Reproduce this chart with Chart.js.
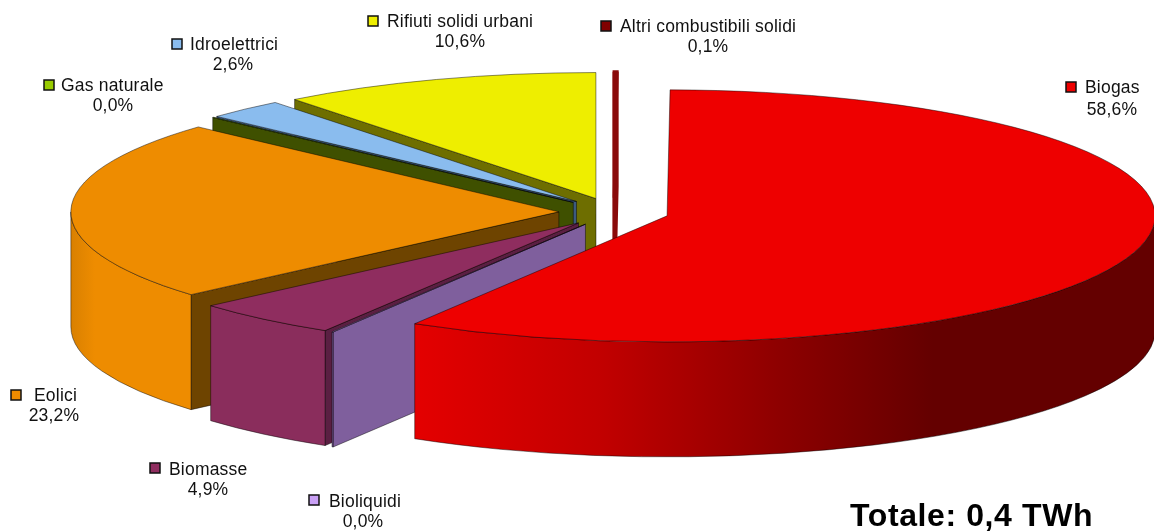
<!DOCTYPE html>
<html>
<head>
<meta charset="utf-8">
<title>Totale: 0,4 TWh</title>
<script src="https://cdn.jsdelivr.net/npm/chart.js@4/dist/chart.umd.min.js"></script>
<style>
    html, body { margin: 0; padding: 0; background: #fff; }
    canvas { display: block; }
</style>
</head>
<body>
<canvas id="myChart" width="1154" height="531"></canvas>
<script>
// data, clockwise from the top of the pie
var categories = ['Biogas', 'Bioliquidi', 'Biomasse', 'Eolici', 'Gas naturale', 'Idroelettrici', 'Rifiuti solidi urbani', 'Altri combustibili solidi'];
var shares = [58.6, 0.04, 4.9, 23.2, 0.04, 2.6, 10.6, 0.1];
var shareLabels = ['58,6%', '0,0%', '4,9%', '23,2%', '0,0%', '2,6%', '10,6%', '0,1%'];
var totalLabel = 'Totale: 0,4 TWh';

// colours
var topColors = ['#ee0000', '#c9a0f5', '#8f2d5f', '#ee8c00', '#99cc00', '#8abcee', '#eeee00', '#800000'];
var cutColors = ['#a00000', '#7f5f9d', '#5a1f42', '#6e4400', '#3f5000', '#3c5a80', '#6e6e00', '#7a0000'];
var rimStops = [
    [[0, '#e40000'], [0.25, '#c20000'], [0.5, '#8c0000'], [0.7, '#640000'], [1, '#640000']],
    [[0, '#7f5f9d'], [1, '#7f5f9d']],
    [[0, '#8a2d5c'], [1, '#8a2d5c']],
    [[0, '#d98000'], [0.2, '#ee8c00'], [1, '#ee8c00']],
    [[0, '#3f5000'], [1, '#3f5000']],
    [[0, '#3c5a80'], [1, '#3c5a80']],
    [[0, '#6e6e00'], [1, '#6e6e00']],
    [[0, '#7a0000'], [1, '#7a0000']]
];
// outline of each slice, the thin last one gets a thick red edge so it stays visible
var edgeColors = ['rgba(0,0,0,0.45)', 'rgba(0,0,0,0.45)', 'rgba(0,0,0,0.45)', 'rgba(0,0,0,0.45)', 'rgba(0,0,0,0.45)', 'rgba(0,0,0,0.45)', 'rgba(0,0,0,0.45)', '#8a0a0a'];
var edgeWidths = [1, 1, 1, 1, 1, 1, 1, 3];

// shape of the tilted pie
var PIE_X = 614, PIE_Y = 212, RX = 488, RY = 126, DEPTH = 115, EXPLODE = 0.113;

// label layout: key centre x, key centre y, text left, text baseline, value centre, value baseline
var labelLayout = [
    [1071, 87, 1085, 93, 1112, 115],
    [314, 500, 329, 507, 363, 527],
    [155, 468, 169, 475, 208, 495],
    [16, 395, 34, 401, 54, 421],
    [49, 85, 61, 91, 113, 111],
    [177, 44, 190, 50, 233, 70],
    [373, 21, 387, 27, 460, 47],
    [606, 26, 620, 32, 708, 52]
];

function slicePoint(arc) {
    var mid = (arc.startAngle + arc.endAngle) / 2;
    return {
        x: PIE_X + Math.cos(mid) * EXPLODE * RX,
        y: PIE_Y + Math.sin(mid) * EXPLODE * RY
    };
}

function drawCut(ctx, p, angle, color) {
    var rimX = p.x + Math.cos(angle) * RX;
    var rimY = p.y + Math.sin(angle) * RY;
    ctx.beginPath();
    ctx.moveTo(p.x, p.y);
    ctx.lineTo(rimX, rimY);
    ctx.lineTo(rimX, rimY + DEPTH);
    ctx.lineTo(p.x, p.y + DEPTH);
    ctx.closePath();
    ctx.fillStyle = color;
    ctx.fill();
    ctx.stroke();
}

function drawRim(ctx, p, arc, stops) {
    var a0 = Math.max(arc.startAngle, 0);
    var a1 = Math.min(arc.endAngle, Math.PI);
    if (a1 <= a0) return;
    var x0 = p.x + Math.cos(a1) * RX;
    var x1 = p.x + Math.cos(a0) * RX;
    var grad = ctx.createLinearGradient(x0, 0, x1, 0);
    stops.forEach(function (s) { grad.addColorStop(s[0], s[1]); });
    ctx.beginPath();
    ctx.ellipse(p.x, p.y, RX, RY, 0, a0, a1);
    ctx.ellipse(p.x, p.y + DEPTH, RX, RY, 0, a1, a0, true);
    ctx.closePath();
    ctx.fillStyle = grad;
    ctx.fill();
    ctx.stroke();
}

var pie3d = {
    id: 'pie3d',
    beforeDatasetsDraw: function (chart) {
        var ctx = chart.ctx;
        var arcs = chart.getDatasetMeta(0).data;
        ctx.save();
        // back slices first
        for (var i = arcs.length - 1; i >= 0; i--) {
            var arc = arcs[i];
            var p = slicePoint(arc);
            ctx.lineWidth = edgeWidths[i];
            ctx.strokeStyle = edgeColors[i];
            // only the cut faces turned towards the viewer
            if (Math.cos(arc.startAngle) < 0) drawCut(ctx, p, arc.startAngle, cutColors[i]);
            if (Math.cos(arc.endAngle) > 0) drawCut(ctx, p, arc.endAngle, cutColors[i]);
            drawRim(ctx, p, arc, rimStops[i]);

            ctx.save();
            ctx.translate(p.x, p.y);
            ctx.scale(RX / arc.outerRadius, RY / arc.outerRadius);
            ctx.translate(-arc.x, -arc.y);
            arc.draw(ctx);
            ctx.restore();

            ctx.beginPath();
            ctx.moveTo(p.x, p.y);
            ctx.ellipse(p.x, p.y, RX, RY, 0, arc.startAngle, arc.endAngle);
            ctx.closePath();
            ctx.stroke();
        }
        ctx.restore();
        return false;
    },
    afterDraw: function (chart) {
        var ctx = chart.ctx;
        ctx.save();
        ctx.font = '17.5px "Liberation Sans", Arial, sans-serif';
        ctx.letterSpacing = '0.2px';
        ctx.textBaseline = 'alphabetic';
        categories.forEach(function (name, i) {
            var l = labelLayout[i];
            ctx.fillStyle = topColors[i];
            ctx.fillRect(l[0] - 5, l[1] - 5, 10, 10);
            ctx.strokeStyle = '#111';
            ctx.lineWidth = 1.5;
            ctx.strokeRect(l[0] - 5, l[1] - 5, 10, 10);
            ctx.fillStyle = '#111';
            ctx.textAlign = 'left';
            ctx.fillText(name, l[2], l[3]);
            ctx.textAlign = 'center';
            ctx.fillText(shareLabels[i], l[4], l[5]);
        });
        ctx.font = 'bold 32px "Liberation Sans", Arial, sans-serif';
        ctx.letterSpacing = '0.6px';
        ctx.textAlign = 'left';
        ctx.fillStyle = '#000';
        ctx.fillText(totalLabel, 850, 526);
        ctx.restore();
    }
};

var myChart = new Chart(document.getElementById('myChart').getContext('2d'), {
    type: 'pie',
    data: {
        labels: categories,
        datasets: [{
            data: shares,
            backgroundColor: topColors,
            borderWidth: 0
        }]
    },
    options: {
        responsive: false,
        animation: false,
        rotation: 0.35,
        plugins: {
            legend: { display: false },
            tooltip: { enabled: false }
        }
    },
    plugins: [pie3d]
});
</script>
</body>
</html>
